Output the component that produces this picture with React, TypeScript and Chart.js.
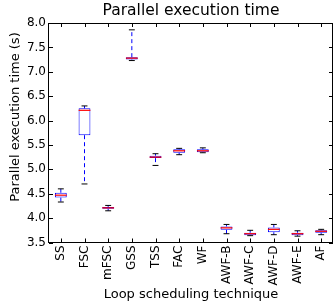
import React, { useEffect, useRef } from 'react';
import { Chart, registerables } from 'chart.js';

Chart.register(...registerables);

const categories = ['SS', 'FSC', 'mFSC', 'GSS', 'TSS', 'FAC', 'WF', 'AWF-B', 'AWF-C', 'AWF-D', 'AWF-E', 'AF'];
const whiskerLow = [4.33, 4.70, 4.15, 7.23, 5.08, 5.30, 5.34, 3.68, 3.64, 3.66, 3.63, 3.66];
const quartile1 = [4.42, 5.70, 4.19, 7.25, 5.23, 5.34, 5.35, 3.76, 3.65, 3.71, 3.65, 3.70];
const medians = [4.47, 6.21, 4.21, 7.28, 5.25, 5.38, 5.38, 3.80, 3.68, 3.77, 3.68, 3.73];
const quartile3 = [4.52, 6.25, 4.23, 7.30, 5.28, 5.41, 5.41, 3.83, 3.70, 3.81, 3.70, 3.75];
const whiskerHigh = [4.60, 6.30, 4.26, 7.86, 5.32, 5.43, 5.44, 3.87, 3.75, 3.87, 3.74, 3.77];
const yTickValues = [3.5, 4.0, 4.5, 5.0, 5.5, 6.0, 6.5, 7.0, 7.5, 8.0];

const chartTitle = 'Parallel execution time';
const xTitle = 'Loop scheduling technique';
const yTitle = 'Parallel execution time (s)';

const FONT = "'DejaVu Sans', sans-serif";

export default function App() {
  const ref = useRef<HTMLCanvasElement>(null);

  useEffect(() => {
    if (!ref.current) return;

    const boxPlugin = {
      id: 'boxExtras',
      afterDatasetsDraw(chart: any) {
        const { ctx } = chart;
        const x = chart.scales.x;
        const y = chart.scales.y;
        const meta = chart.getDatasetMeta(0);
        ctx.save();
        categories.forEach((_c, i) => {
          const bar: any = meta.data[i];
          const cx = x.getPixelForValue(i);
          const w = bar.width;
          const yLo = y.getPixelForValue(whiskerLow[i]);
          const yQ1 = y.getPixelForValue(quartile1[i]);
          const yMed = y.getPixelForValue(medians[i]);
          const yQ3 = y.getPixelForValue(quartile3[i]);
          const yHi = y.getPixelForValue(whiskerHigh[i]);
          // whiskers
          ctx.strokeStyle = '#0000ff';
          ctx.lineWidth = 1;
          ctx.setLineDash([4, 3]);
          ctx.beginPath();
          ctx.moveTo(cx, yQ3);
          ctx.lineTo(cx, yHi);
          ctx.moveTo(cx, yQ1);
          ctx.lineTo(cx, yLo);
          ctx.stroke();
          ctx.setLineDash([]);
          // caps
          ctx.strokeStyle = '#000000';
          ctx.beginPath();
          ctx.moveTo(cx - w / 4, yHi);
          ctx.lineTo(cx + w / 4, yHi);
          ctx.moveTo(cx - w / 4, yLo);
          ctx.lineTo(cx + w / 4, yLo);
          ctx.stroke();
          // median
          ctx.strokeStyle = '#ff0000';
          ctx.lineWidth = 1.2;
          ctx.beginPath();
          ctx.moveTo(cx - w / 2, yMed);
          ctx.lineTo(cx + w / 2, yMed);
          ctx.stroke();
        });
        ctx.restore();
      },
      afterDraw(chart: any) {
        const { ctx, chartArea } = chart;
        const { left, right, top, bottom } = chartArea;
        const x = chart.scales.x;
        const y = chart.scales.y;
        ctx.save();
        ctx.strokeStyle = '#000000';
        ctx.lineWidth = 1;
        ctx.strokeRect(Math.round(left) - 0.5, Math.round(top) + 0.5, Math.round(right - left), Math.round(bottom - top) - 1);
        ctx.beginPath();
        const tl = 4;
        yTickValues.forEach((v) => {
          const py = Math.round(y.getPixelForValue(v)) + 0.5;
          ctx.moveTo(left, py);
          ctx.lineTo(left + tl, py);
          ctx.moveTo(right, py);
          ctx.lineTo(right - tl, py);
        });
        categories.forEach((_c, i) => {
          const px = Math.round(x.getPixelForValue(i)) + 0.5;
          ctx.moveTo(px, bottom);
          ctx.lineTo(px, bottom - tl);
          ctx.moveTo(px, top);
          ctx.lineTo(px, top + tl);
        });
        ctx.stroke();
        // chart title, centred over the plot area
        ctx.fillStyle = '#000000';
        ctx.textAlign = 'center';
        ctx.textBaseline = 'middle';
        ctx.font = `15.5px ${FONT}`;
        ctx.fillText(chartTitle, (left + right) / 2, 10.5);
        // y axis title
        ctx.font = `13px ${FONT}`;
        ctx.translate(16, 117);
        ctx.rotate(-Math.PI / 2);
        ctx.fillText(yTitle, 0, 0);
        ctx.restore();
      },
    };

    const chart = new Chart(ref.current, {
      type: 'bar',
      data: {
        labels: categories,
        datasets: [
          {
            data: quartile1.map((v, i) => [v, quartile3[i]]) as any,
            backgroundColor: '#ffffff',
            borderColor: '#0000ff',
            borderWidth: 1,
            borderSkipped: false,
            barPercentage: 0.5,
            categoryPercentage: 1,
          },
        ],
      },
      options: {
        responsive: true,
        maintainAspectRatio: false,
        animation: false,
        layout: { padding: { left: 0, right: 1, top: 23, bottom: 0 } },
        plugins: {
          legend: { display: false },
          tooltip: { enabled: false },
          title: { display: false },
        },
        scales: {
          x: {
            type: 'category',
            offset: true,
            grid: { display: false, drawTicks: false },
            border: { display: false },
            ticks: {
              color: '#000000',
              font: { family: FONT, size: 12 },
              maxRotation: 90,
              minRotation: 90,
              autoSkip: false,
              padding: 3,
            },
            title: {
              display: true,
              text: xTitle,
              color: '#000000',
              font: { family: FONT, size: 13 },
              padding: { top: 0, bottom: 6 },
            },
            afterFit: (s: any) => {
              s.height = 65.5;
              s.paddingLeft = 0;
              s.paddingRight = 0;
            },
          },
          y: {
            type: 'linear',
            min: 3.5,
            max: 8,
            grid: { display: false, drawTicks: false },
            border: { display: false },
            afterBuildTicks: (s: any) => {
              s.ticks = yTickValues.map((v) => ({ value: v }));
            },
            ticks: {
              color: '#000000',
              font: { family: FONT, size: 12 },
              padding: 3,
              callback: (v: any) => Number(v).toFixed(1),
            },
            afterFit: (s: any) => {
              s.width = 49;
              s.paddingTop = 0;
              s.paddingBottom = 0;
            },
          },
        },
      },
      plugins: [boxPlugin],
    });

    return () => chart.destroy();
  }, []);

  return (
    <div style={{ position: 'absolute', left: 0, top: 0, width: 334, height: 308 }}>
      <canvas ref={ref} />
    </div>
  );
}
